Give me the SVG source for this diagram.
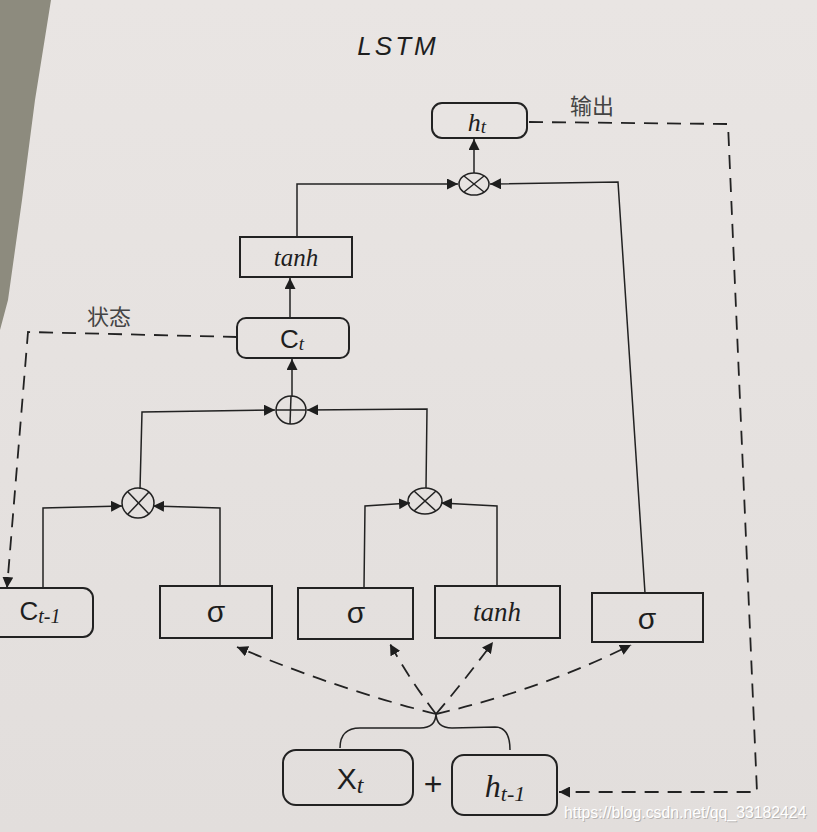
<svg xmlns="http://www.w3.org/2000/svg" width="817" height="832" viewBox="0 0 817 832">
<defs>
<marker id="ah" viewBox="0 0 10 10" refX="10" refY="5" markerWidth="11" markerHeight="11" markerUnits="userSpaceOnUse" orient="auto">
<path d="M0,0 L10,5 L0,10 z" fill="#1e1e1e"/>
</marker>
<linearGradient id="paper" x1="0" y1="0" x2="0" y2="1">
<stop offset="0" stop-color="#e9e5e3"/>
<stop offset="1" stop-color="#e2dedc"/>
</linearGradient>
</defs>
<style>
.box{fill:none;stroke:#222;stroke-width:2}
.ln{fill:none;stroke:#222;stroke-width:1.5}
.ds{fill:none;stroke:#222;stroke-width:1.8;stroke-dasharray:14 9}
.op{fill:none;stroke:#222;stroke-width:1.5}
.t{font-family:"Liberation Sans","Noto Sans CJK SC",sans-serif;fill:#1e1e1e;text-anchor:middle}
.hw{font-family:"Liberation Serif","Noto Sans CJK SC",serif;font-style:italic;fill:#1e1e1e;text-anchor:middle}
.cn{font-family:"Noto Sans CJK SC",sans-serif;fill:#444;font-size:22px}
</style>
<rect x="0" y="0" width="817" height="832" fill="url(#paper)"/>
<polygon points="0,0 51,0 43,50 35,100 22,200 8,300 0,330" fill="#8d8b7e"/>

<text x="398" y="55" class="t" font-size="26" font-style="italic" letter-spacing="3" fill="#333">LSTM</text>

<g id="connectors">
<line class="ln" x1="474" y1="173" x2="474" y2="139" marker-end="url(#ah)"/>
<path class="ln" d="M297,237 L297,184 L458,184" marker-end="url(#ah)"/>
<path class="ln" d="M645,593 L618,182 L490,184" marker-end="url(#ah)"/>
<path class="ln" d="M290,318 L290,278" marker-end="url(#ah)"/>
<path class="ln" d="M292,397 L292,359" marker-end="url(#ah)"/>
<path class="ln" d="M140,489 L142,412 L275,410" marker-end="url(#ah)"/>
<path class="ln" d="M426,488 L427,409 L307,410" marker-end="url(#ah)"/>
<path class="ln" d="M43,588 L43,508 L122,506" marker-end="url(#ah)"/>
<path class="ln" d="M220,586 L220,508 L153,506" marker-end="url(#ah)"/>
<path class="ln" d="M364,588 L365,506 L410,503" marker-end="url(#ah)"/>
<path class="ln" d="M497,586 L497,506 L441,503" marker-end="url(#ah)"/>
<path class="ds" d="M529,122 L728,124 L757,792 L559,792" marker-end="url(#ah)"/>
<path class="ds" d="M237,337 L28,332 L7,588" marker-end="url(#ah)"/>
<path class="ds" d="M436,714 Q340,690 237,647" marker-end="url(#ah)"/>
<path class="ds" d="M436,714 Q410,680 390,644" marker-end="url(#ah)"/>
<path class="ds" d="M436,714 Q465,680 493,642" marker-end="url(#ah)"/>
<path class="ds" d="M436,714 Q540,690 631,645" marker-end="url(#ah)"/>
<path class="ln" stroke-width="2" d="M340,748 Q340,728 360,728 L420,728 Q436,728 436,713 Q436,728 452,728 L495,727 Q510,727 510,750"/>
</g>
<text x="570" y="114" class="cn">输出</text>
<text x="87" y="325" class="cn">状态</text>

<g id="h_t">
<rect class="box" x="432" y="103" width="95" height="35" rx="10"/>
<text x="477" y="131" class="hw" font-size="26">h<tspan font-size="19" dy="2">t</tspan></text>
</g>
<g id="mul_out">
<ellipse class="op" cx="474" cy="184" rx="15" ry="11"/>
<line class="op" x1="464" y1="176" x2="484" y2="192"/>
<line class="op" x1="484" y1="176" x2="464" y2="192"/>
</g>
<g id="tanh_c">
<rect class="box" x="240" y="237" width="112" height="40"/>
<text x="296" y="266" class="hw" font-size="25">tanh</text>
</g>
<g id="C_t">
<rect class="box" x="237" y="318" width="112" height="40" rx="9"/>
<text x="292" y="348" class="t" font-size="26">C<tspan font-size="19" dy="2" font-family="Liberation Serif" font-style="italic">t</tspan></text>
</g>
<g id="add">
<ellipse class="op" cx="291" cy="410" rx="15" ry="14"/>
<line class="op" x1="276" y1="410" x2="306" y2="410"/>
<line class="op" x1="291" y1="396" x2="290" y2="424"/>
</g>
<g id="mul_forget">
<ellipse class="op" cx="138" cy="503" rx="16" ry="15"/>
<line class="op" x1="128" y1="492" x2="149" y2="514"/>
<line class="op" x1="149" y1="492" x2="128" y2="514"/>
</g>
<g id="mul_input">
<ellipse class="op" cx="425" cy="501" rx="17" ry="13"/>
<line class="op" x1="414" y1="491" x2="436" y2="511"/>
<line class="op" x1="436" y1="491" x2="414" y2="511"/>
</g>
<g id="C_t1">
<rect class="box" x="-10" y="588" width="103" height="49" rx="10"/>
<text x="40" y="620" class="t" font-size="26">C<tspan font-size="20" dy="3" font-family="Liberation Serif" font-style="italic">t-1</tspan></text>
</g>
<g id="sigma_f">
<rect class="box" x="160" y="586" width="112" height="52"/>
<text x="216" y="622" class="t" font-size="30">σ</text>
</g>
<g id="sigma_i">
<rect class="box" x="298" y="588" width="115" height="51"/>
<text x="356" y="623" class="t" font-size="30">σ</text>
</g>
<g id="tanh_g">
<rect class="box" x="435" y="586" width="125" height="52"/>
<text x="497" y="621" class="hw" font-size="27">tanh</text>
</g>
<g id="sigma_o">
<rect class="box" x="592" y="593" width="111" height="49"/>
<text x="647" y="629" class="t" font-size="30">σ</text>
</g>
<g id="X_t">
<rect class="box" x="283" y="750" width="130" height="55" rx="13"/>
<text x="350" y="789" class="t" font-size="30">X<tspan font-size="24" dy="4" font-family="Liberation Serif" font-style="italic">t</tspan></text>
</g>
<text x="433" y="795" class="t" font-size="32">+</text>
<g id="h_t1">
<rect class="box" x="452" y="755" width="105" height="60" rx="12"/>
<text x="505" y="797" class="hw" font-size="32">h<tspan font-size="22" dy="4">t-1</tspan></text>
</g>
<text x="564" y="818" font-family="Liberation Sans, sans-serif" font-size="15.8" fill="#9a9896" opacity="0.6" dx="1" dy="1">https://blog.csdn.net/qq_33182424</text>
<text x="564" y="818" font-family="Liberation Sans, sans-serif" font-size="15.8" fill="#ffffff">https://blog.csdn.net/qq_33182424</text>
</svg>
